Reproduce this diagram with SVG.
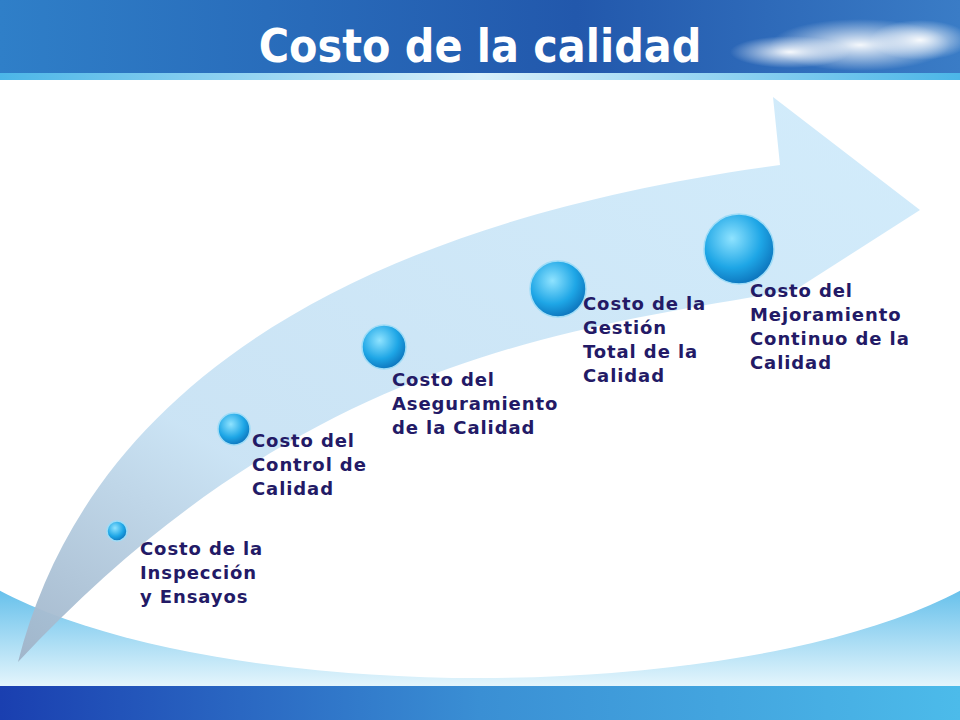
<svg xmlns="http://www.w3.org/2000/svg" width="960" height="720" viewBox="0 0 960 720">
<defs>
<linearGradient id="hdr" x1="0" y1="0" x2="1" y2="0"><stop offset="0" stop-color="#2f7fc8"/><stop offset="0.6" stop-color="#2258ac"/><stop offset="1" stop-color="#3a7cc6"/></linearGradient>
<linearGradient id="band" x1="0" y1="0" x2="1" y2="0"><stop offset="0" stop-color="#4bb6e8"/><stop offset="0.5" stop-color="#d8f0fb"/><stop offset="1" stop-color="#4bb6e8"/></linearGradient>
<linearGradient id="foot" x1="0" y1="0" x2="1" y2="0"><stop offset="0" stop-color="#1a3fb0"/><stop offset="0.5" stop-color="#3a8fd4"/><stop offset="1" stop-color="#4cbbea"/></linearGradient>
<linearGradient id="sw" x1="0" y1="0" x2="0" y2="1"><stop offset="0" stop-color="#3fb0e6"/><stop offset="1" stop-color="#e4f5fc"/></linearGradient>
<linearGradient id="arr" x1="0" y1="1" x2="1" y2="0"><stop offset="0" stop-color="#9fb3c8"/><stop offset="0.3" stop-color="#c8e2f4"/><stop offset="1" stop-color="#d0ebfb"/></linearGradient>
<radialGradient id="ball" cx="0.4" cy="0.35" r="0.7"><stop offset="0" stop-color="#8fe3ff"/><stop offset="0.6" stop-color="#1ea6e6"/><stop offset="1" stop-color="#0b6fb8"/></radialGradient>
<radialGradient id="cloud" cx="0.5" cy="0.5" r="0.5"><stop offset="0" stop-color="#ffffff" stop-opacity="0.95"/><stop offset="1" stop-color="#ffffff" stop-opacity="0"/></radialGradient>
<style>
.lbl{font-family:"DejaVu Sans",Verdana,sans-serif;font-weight:bold;font-size:18px;letter-spacing:0.9px;fill:#231a66}
.ball{fill:url(#ball);stroke:#9fdcf7;stroke-width:1.5}
</style>
</defs>
<rect width="960" height="720" fill="#fff"/>
<rect y="560" width="960" height="126" fill="url(#sw)"/>
<ellipse cx="480" cy="498" rx="560" ry="180" fill="#fff"/>
<rect y="686" width="960" height="34" fill="url(#foot)"/>
<rect width="960" height="73" fill="url(#hdr)"/>
<ellipse cx="860" cy="45" rx="90" ry="26" fill="url(#cloud)"/>
<ellipse cx="790" cy="52" rx="60" ry="16" fill="url(#cloud)"/>
<ellipse cx="920" cy="40" rx="50" ry="20" fill="url(#cloud)"/>
<rect y="73" width="960" height="7" fill="url(#band)"/>
<text x="480" y="62" text-anchor="middle" font-family="'DejaVu Sans Condensed','DejaVu Sans',sans-serif" font-weight="bold" font-size="46" fill="#fff">Costo de la calidad</text>
<g id="arrow"><path d="M18,662 C80,420 300,230 780,165 L773,97 L920,210 L795,290 C560,330 300,360 18,662 Z" fill="url(#arr)" opacity="0.95"/></g>
<g id="n1"><circle class="ball" cx="117" cy="531" r="10"/><text class="lbl" x="140" y="555">Costo de la</text><text class="lbl" x="140" y="579">Inspección</text><text class="lbl" x="140" y="603">y Ensayos</text></g>
<g id="n2"><circle class="ball" cx="234" cy="429" r="16"/><text class="lbl" x="252" y="447">Costo del</text><text class="lbl" x="252" y="471">Control de</text><text class="lbl" x="252" y="495">Calidad</text></g>
<g id="n3"><circle class="ball" cx="384" cy="347" r="22"/><text class="lbl" x="392" y="386">Costo del</text><text class="lbl" x="392" y="410">Aseguramiento</text><text class="lbl" x="392" y="434">de la Calidad</text></g>
<g id="n4"><circle class="ball" cx="558" cy="289" r="28"/><text class="lbl" x="583" y="310">Costo de la</text><text class="lbl" x="583" y="334">Gestión</text><text class="lbl" x="583" y="358">Total de la</text><text class="lbl" x="583" y="382">Calidad</text></g>
<g id="n5"><circle class="ball" cx="739" cy="249" r="35"/><text class="lbl" x="750" y="297">Costo del</text><text class="lbl" x="750" y="321">Mejoramiento</text><text class="lbl" x="750" y="345">Continuo de la</text><text class="lbl" x="750" y="369">Calidad</text></g>
<g id="connectors"/>
</svg>
